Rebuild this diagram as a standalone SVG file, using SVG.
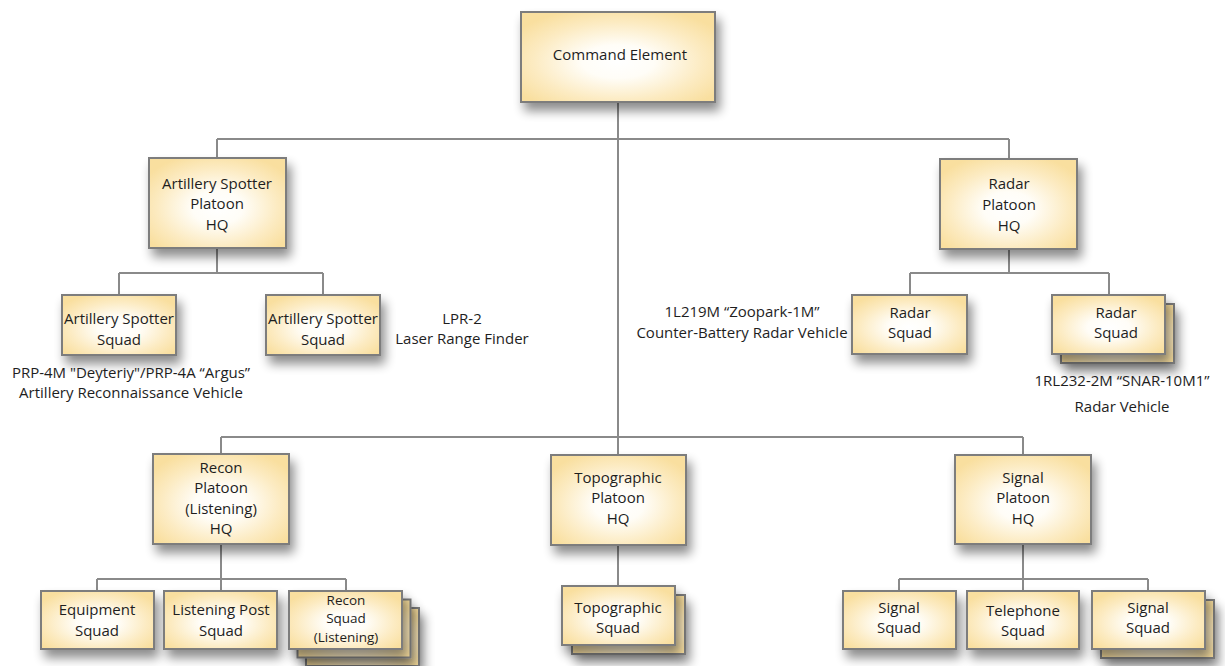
<svg xmlns="http://www.w3.org/2000/svg" width="1225" height="666" viewBox="0 0 1225 666">
<defs>
<radialGradient id="g" cx="0.5" cy="0.55" r="0.62">
<stop offset="0" stop-color="#ffffff"/>
<stop offset="0.3" stop-color="#fffdf7"/>
<stop offset="0.7" stop-color="#fcebc2"/>
<stop offset="1" stop-color="#f9df9f"/>
</radialGradient>
<filter id="sh" x="-30%" y="-30%" width="170%" height="180%">
<feGaussianBlur in="SourceAlpha" stdDeviation="5.5"/>
<feOffset dx="4" dy="8" result="b"/>
<feComponentTransfer><feFuncA type="linear" slope="0.45"/></feComponentTransfer>
<feMerge><feMergeNode/><feMergeNode in="SourceGraphic"/></feMerge>
</filter>
</defs>
<style>
.b{fill:url(#g);stroke:#7d7d7d;stroke-width:2;filter:url(#sh)}
.c{fill:none;stroke:#8a8a8a;stroke-width:2}
text{font-family:"Open Sans","Noto Sans","Liberation Sans",sans-serif;font-size:15px;fill:#1e1e1e;text-anchor:middle}
.s{font-size:13.5px}
</style>
<rect width="1225" height="666" fill="#ffffff"/>
<g id="connectors">
<path class="c" d="M618,102V455"/>
<path class="c" d="M217,139H1009M217,139V158M1009,139V159"/>
<path class="c" d="M217,248V273M119,273H323M119,273V295M323,273V295"/>
<path class="c" d="M1009,249V273M910,273H1109M910,273V295M1109,273V295"/>
<path class="c" d="M221,437H1023M221,437V454M1023,437V455"/>
<path class="c" d="M221,544V579M97,579H346M97,579V591M221,579V591M346,579V591"/>
<path class="c" d="M618,545V586"/>
<path class="c" d="M1023,544V579M899,579H1148M899,579V591M1023,579V591M1148,579V591"/>
</g>
<g id="command-element"><rect class="b" x="521" y="12" width="194" height="90"/><text x="620" y="60">Command Element</text></g>
<g id="artillery-spotter-platoon-hq"><rect class="b" x="149" y="158" width="137" height="90"/><text x="217" y="189">Artillery Spotter</text><text x="217" y="209">Platoon</text><text x="217" y="230">HQ</text></g>
<g id="radar-platoon-hq"><rect class="b" x="940" y="159" width="137" height="90"/><text x="1009" y="189">Radar</text><text x="1009" y="210">Platoon</text><text x="1009" y="231">HQ</text></g>
<g id="artillery-spotter-squad-1"><rect class="b" x="62" y="295" width="114" height="60"/><text x="119" y="324">Artillery Spotter</text><text x="119" y="345">Squad</text></g>
<g id="artillery-spotter-squad-2"><rect class="b" x="266" y="295" width="114" height="60"/><text x="323" y="324">Artillery Spotter</text><text x="323" y="345">Squad</text></g>
<g id="radar-squad-1"><rect class="b" x="852" y="295" width="115" height="59"/><text x="910" y="318">Radar</text><text x="910" y="338">Squad</text></g>
<g id="radar-squad-2"><rect class="b" x="1061" y="304" width="113" height="59"/><rect class="b" x="1052" y="295" width="113" height="59"/><text x="1116" y="318">Radar</text><text x="1116" y="338">Squad</text></g>
<g id="recon-platoon-hq"><rect class="b" x="153" y="454" width="136" height="90"/><text x="221" y="473">Recon</text><text x="221" y="493">Platoon</text><text x="221" y="514">(Listening)</text><text x="221" y="534">HQ</text></g>
<g id="topographic-platoon-hq"><rect class="b" x="551" y="455" width="135" height="90"/><text x="618" y="483">Topographic</text><text x="618" y="503">Platoon</text><text x="618" y="524">HQ</text></g>
<g id="signal-platoon-hq"><rect class="b" x="955" y="455" width="136" height="89"/><text x="1023" y="483">Signal</text><text x="1023" y="503">Platoon</text><text x="1023" y="524">HQ</text></g>
<g id="equipment-squad"><rect class="b" x="41" y="591" width="113" height="58"/><text x="97" y="615">Equipment</text><text x="97" y="636">Squad</text></g>
<g id="listening-post-squad"><rect class="b" x="164" y="591" width="113" height="58"/><text x="221" y="615">Listening Post</text><text x="221" y="636">Squad</text></g>
<g id="recon-squad-listening"><rect class="b" x="306" y="608" width="113" height="58"/><rect class="b" x="297.5" y="599.5" width="113" height="58"/><rect class="b" x="289" y="591" width="113" height="58"/><text class="s" x="346" y="604.5">Recon</text><text class="s" x="346" y="623">Squad</text><text class="s" x="346" y="641.5">(Listening)</text></g>
<g id="topographic-squad"><rect class="b" x="572" y="595" width="113" height="59"/><rect class="b" x="562" y="586" width="113" height="59"/><text x="618" y="613">Topographic</text><text x="618" y="633">Squad</text></g>
<g id="signal-squad-1"><rect class="b" x="843" y="591" width="113" height="58"/><text x="899" y="613">Signal</text><text x="899" y="633">Squad</text></g>
<g id="telephone-squad"><rect class="b" x="967" y="591" width="112" height="58"/><text x="1023" y="616">Telephone</text><text x="1023" y="636">Squad</text></g>
<g id="signal-squad-2"><rect class="b" x="1101" y="600" width="113" height="58"/><rect class="b" x="1092" y="591" width="113" height="58"/><text x="1148" y="613">Signal</text><text x="1148" y="633">Squad</text></g>
<g id="labels">
<text x="131" y="378">PRP-4M "Deyteriy"/PRP-4A “Argus”</text>
<text x="131" y="398">Artillery Reconnaissance  Vehicle</text>
<text x="462" y="324">LPR-2</text>
<text x="462" y="344">Laser Range Finder</text>
<text x="742" y="317">1L219M “Zoopark-1M”</text>
<text x="742" y="338">Counter-Battery Radar Vehicle</text>
<text x="1122" y="386">1RL232-2M “SNAR-10M1”</text>
<text x="1122" y="412">Radar Vehicle</text>
</g>
</svg>
